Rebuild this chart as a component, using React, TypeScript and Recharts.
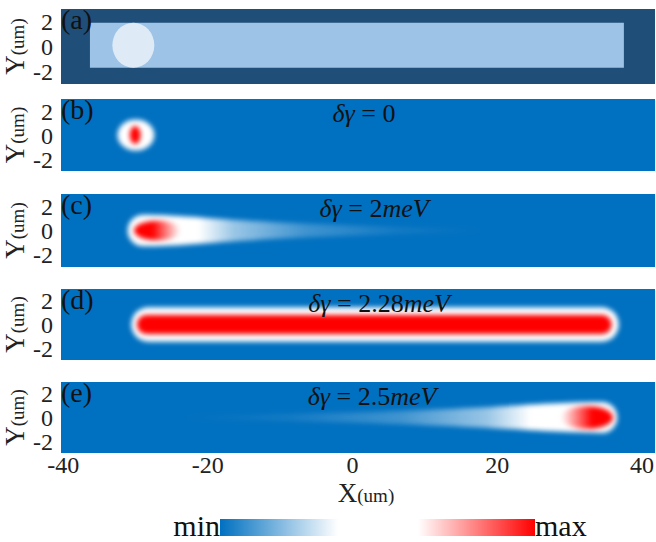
import React from 'react';
import { CartesianGrid, ComposedChart, ReferenceArea, XAxis, YAxis } from 'recharts';

const panelTags = ['(a)', '(b)', '(c)', '(d)', '(e)'];
const gammaValues = ['', '0', '2', '2.28', '2.5'];
const gammaUnits = ['', '', 'meV', 'meV', 'meV'];
const xTicks = [-40, -20, 0, 20, 40];
const yTicks = [-2, 0, 2];
const xDomain = [-40.3, 41.8];
const yDomain = [-3, 3];

// sample in panel (a), um
const waveguide = { x1: -36.3, x2: 37.5, y1: -1.7, y2: 1.9 };
const pumpSpot = { x1: -33.2, x2: -27.4, y1: -1.7, y2: 1.9 };

// condensate density of panels (b)-(e), um
// glow = region at/above the white level, core = region near max
const glowX1 = [-32.5, -31.1, -30.6, -23.5];
const glowX2 = [-27.4, 18, 36.8, 36.6];
const glowHalf = [1.3, 1.3, 1.45, 1.3];
const coreX1 = [-30.8, -30.2, -29.8, 28.8];
const coreX2 = [-29.3, -23.8, 35.8, 36.0];
const coreHalf = [0.75, 0.8, 0.8, 0.95];
// direction the density tail runs: 1 right, -1 left, 0 none
const tailDir = [0, 1, 0, -1];

const BLUE = '#0070C0';
const NAVY = '#1F4E79';
const LIGHT = '#9DC3E6';
const SPOT = '#DEEBF7';
const RED = '#FF0000';
const SERIF = '"Liberation Serif", serif';
const TEXT = '#222';

const panelTop = [9, 99, 194, 289, 382];
const panelH = [75, 72, 73, 71, 71];
const noteCenter = [0, 364, 374, 379, 372];
const PAD = 12;

function blurFilter(id: string, sd: number) {
    return (
        <filter id={id} x="-40%" y="-80%" width="180%" height="260%">
            <feGaussianBlur stdDeviation={sd} />
        </filter>
    );
}

function glowShape(k: number) {
    const dir = tailDir[k];
    return (props: any) => {
        const { x, y, width: w, height: h } = props;
        const id = `glow${k}`;
        const R = h / 2;
        const tip = h * 0.18;
        let body;
        if (dir === 0) {
            const rx = k === 0 ? w / 2 : R;
            body = <rect x={x} y={y} width={w} height={h} rx={rx} ry={R} fill="#fff" filter={`url(#${id}f)`} />;
        } else {
            const d =
                dir > 0
                    ? `M ${x + R} ${y} C ${x + w * 0.2} ${y} ${x + w * 0.3} ${y + h / 2 - tip} ${x + w} ${y + h / 2 - tip * 0.4} L ${x + w} ${y + h / 2 + tip * 0.4} C ${x + w * 0.3} ${y + h / 2 + tip} ${x + w * 0.2} ${y + h} ${x + R} ${y + h} A ${R} ${R} 0 0 1 ${x + R} ${y} Z`
                    : `M ${x + w - R} ${y} C ${x + w * 0.8} ${y} ${x + w * 0.7} ${y + h / 2 - tip} ${x} ${y + h / 2 - tip * 0.4} L ${x} ${y + h / 2 + tip * 0.4} C ${x + w * 0.7} ${y + h / 2 + tip} ${x + w * 0.8} ${y + h} ${x + w - R} ${y + h} A ${R} ${R} 0 0 0 ${x + w - R} ${y} Z`;
            body = <path d={d} fill={`url(#${id}g)`} filter={`url(#${id}f)`} />;
        }
        return (
            <g>
                <defs>
                    {blurFilter(`${id}f`, 2.6)}
                    <linearGradient id={`${id}g`} x1={dir < 0 ? 1 : 0} x2={dir < 0 ? 0 : 1} y1={0} y2={0}>
                        <stop offset="0" stopColor="#fff" stopOpacity={1} />
                        <stop offset="0.2" stopColor="#fff" stopOpacity={1} />
                        <stop offset="0.3" stopColor="#fff" stopOpacity={0.6} />
                        <stop offset="0.5" stopColor="#fff" stopOpacity={0.25} />
                        <stop offset="0.75" stopColor="#fff" stopOpacity={0.08} />
                        <stop offset="1" stopColor="#fff" stopOpacity={0} />
                    </linearGradient>
                </defs>
                {body}
            </g>
        );
    };
}

function coreShape(k: number) {
    const dir = tailDir[k];
    return (props: any) => {
        const { x, y, width: w, height: h } = props;
        const id = `core${k}`;
        const fill = dir === 0 ? RED : `url(#${id}g)`;
        const rx = dir === 0 && k !== 0 ? h / 2 : w / 2;
        return (
            <g>
                <defs>
                    {blurFilter(`${id}f`, 2.4)}
                    <linearGradient id={`${id}g`} x1={dir < 0 ? 1 : 0} x2={dir < 0 ? 0 : 1} y1={0} y2={0}>
                        <stop offset="0" stopColor={RED} stopOpacity={1} />
                        <stop offset="0.4" stopColor={RED} stopOpacity={1} />
                        <stop offset="1" stopColor={RED} stopOpacity={0} />
                    </linearGradient>
                </defs>
                <rect x={x} y={y} width={w} height={h} rx={rx} ry={h / 2} fill={fill} filter={`url(#${id}f)`} />
            </g>
        );
    };
}

const ellipse = (fill: string) => (props: any) => {
    const { x, y, width: w, height: h } = props;
    return <ellipse cx={x + w / 2} cy={y + h / 2} rx={w / 2} ry={h / 2} fill={fill} />;
};

const tickStyle = { fontSize: 24, fontFamily: SERIF, fill: TEXT };

function YLabel({ viewBox }: any) {
    const cx = 24;
    const cy = viewBox.y + viewBox.height / 2;
    return (
        <text x={cx} y={cy} transform={`rotate(-90 ${cx} ${cy})`} textAnchor="middle" fontFamily={SERIF} fill={TEXT}>
            <tspan fontSize={27}>Y</tspan>
            <tspan fontSize={19}>(um)</tspan>
        </text>
    );
}

function XLabel({ viewBox }: any) {
    return (
        <text x={366} y={viewBox.y + 49} textAnchor="middle" fontFamily={SERIF} fill={TEXT}>
            <tspan fontSize={27}>X</tspan>
            <tspan fontSize={19}>(um)</tspan>
        </text>
    );
}

function Panel({ i }: { i: number }) {
    const last = i === panelTags.length - 1;
    const k = i - 1;
    return (
        <div style={{ position: 'absolute', left: 0, top: panelTop[i] - PAD }}>
            <ComposedChart
                width={656}
                height={panelH[i] + PAD * 2 + (last ? 56 : 0)}
                margin={{ top: PAD, right: 1, bottom: PAD, left: 0 }}
                style={{ fontFamily: SERIF }}
            >
                <CartesianGrid horizontal={false} vertical={false} fill={i === 0 ? NAVY : BLUE} fillOpacity={1} />
                <XAxis
                    type="number"
                    dataKey="x"
                    domain={xDomain}
                    allowDataOverflow
                    ticks={xTicks}
                    interval={0}
                    hide={!last}
                    height={56}
                    tickLine={false}
                    axisLine={false}
                    tickSize={0}
                    tickMargin={3}
                    tick={tickStyle}
                    label={{ content: XLabel }}
                />
                <YAxis
                    type="number"
                    domain={yDomain}
                    allowDataOverflow
                    ticks={yTicks}
                    interval={0}
                    width={61}
                    tickLine={false}
                    axisLine={false}
                    tickSize={0}
                    tickMargin={8}
                    tick={tickStyle}
                    label={{ content: YLabel }}
                />
                {i === 0 && (
                    <ReferenceArea {...waveguide} fill={LIGHT} fillOpacity={1} stroke="none" />
                )}
                {i === 0 && <ReferenceArea {...pumpSpot} shape={ellipse(SPOT)} />}
                {i > 0 && (
                    <ReferenceArea
                        x1={glowX1[k]}
                        x2={glowX2[k]}
                        y1={-glowHalf[k]}
                        y2={glowHalf[k]}
                        shape={glowShape(k)}
                    />
                )}
                {i > 0 && (
                    <ReferenceArea
                        x1={coreX1[k]}
                        x2={coreX2[k]}
                        y1={-coreHalf[k]}
                        y2={coreHalf[k]}
                        shape={coreShape(k)}
                    />
                )}
            </ComposedChart>
        </div>
    );
}

export default function App() {
    return (
        <div
            style={{
                position: 'absolute',
                left: 0,
                top: 0,
                width: 656,
                height: 542,
                background: '#fff',
                fontFamily: SERIF,
            }}
        >
            {panelTags.map((_, i) => (
                <Panel key={i} i={i} />
            ))}
            <svg width={656} height={542} style={{ position: 'absolute', left: 0, top: 0, pointerEvents: 'none' }}>
                <defs>
                    <linearGradient id="cbBlue" x1={0} x2={1} y1={0} y2={0}>
                        <stop offset="0" stopColor={BLUE} />
                        <stop offset="1" stopColor="#fff" />
                    </linearGradient>
                    <linearGradient id="cbRed" x1={0} x2={1} y1={0} y2={0}>
                        <stop offset="0" stopColor="#fff" />
                        <stop offset="1" stopColor={RED} />
                    </linearGradient>
                </defs>
                {panelTags.map((t, i) => (
                    <text key={t} x={61} y={panelTop[i] + 20} fontSize={28} fontFamily={SERIF} fill="#111">
                        {t}
                    </text>
                ))}
                {gammaValues.map((v, i) =>
                    i === 0 ? null : (
                        <text
                            key={i}
                            x={noteCenter[i]}
                            y={panelTop[i] + 23}
                            textAnchor="middle"
                            fontSize={26}
                            fontFamily={SERIF}
                            fill="#111"
                        >
                            <tspan fontStyle="italic">δγ</tspan>
                            <tspan> = {v}</tspan>
                            <tspan fontStyle="italic">{gammaUnits[i]}</tspan>
                        </text>
                    )
                )}
                <rect x={220} y={519} width={118} height={17} fill="url(#cbBlue)" />
                <rect x={418} y={519} width={117} height={17} fill="url(#cbRed)" />
                <text x={220} y={536} textAnchor="end" fontSize={30} fontFamily={SERIF} fill="#111">
                    min
                </text>
                <text x={535} y={536} fontSize={30} fontFamily={SERIF} fill="#111">
                    max
                </text>
            </svg>
        </div>
    );
}
